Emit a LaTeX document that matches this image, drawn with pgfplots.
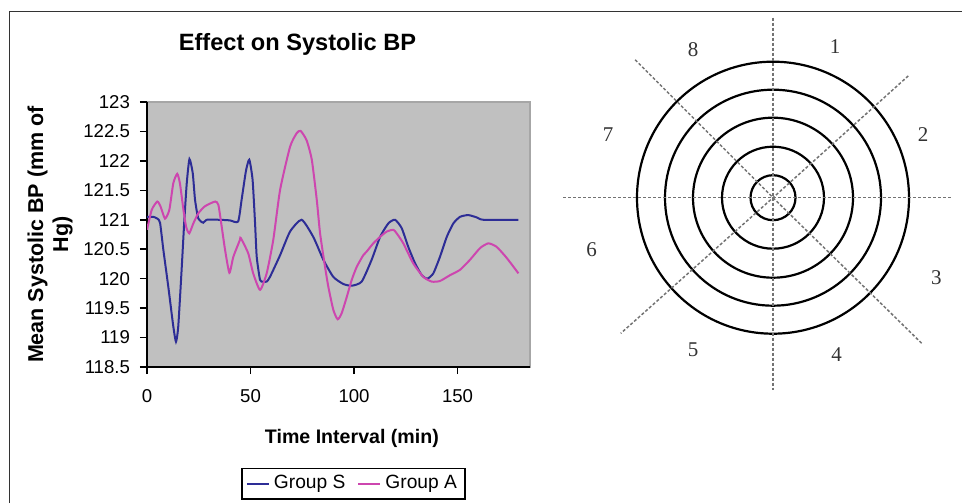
\documentclass[border=0pt]{standalone}
\usepackage{fontspec}
\setmainfont{Liberation Sans}
\newfontfamily\serifnum{Liberation Serif}
\usepackage{pgfplots}
\pgfplotsset{compat=1.18}
\usepgfplotslibrary{polar}
\definecolor{grpS}{RGB}{45,45,150}
\definecolor{grpA}{RGB}{205,70,175}
\definecolor{plotbg}{RGB}{192,192,192}
\begin{document}
\begin{tikzpicture}
\useasboundingbox (0,0) rectangle (481pt,251.5pt);
\draw[line width=0.75pt, black!80] (4.75pt,0) -- (4.75pt,245.75pt) -- (481pt,245.75pt);
\begin{axis}[
  at={(73.5pt,68pt)}, anchor=south west,
  scale only axis, width=191.5pt, height=132.5pt,
  xmin=0, xmax=185, ymin=118.5, ymax=123,
  axis x line*=bottom, axis y line*=left,
  axis line style={black, line width=0.8pt, -},
  axis background/.style={fill=plotbg, draw=gray!70, line width=0.6pt},
  xtick={0,50,100,150},
  ytick={118.5,119,119.5,120,120.5,121,121.5,122,122.5,123},
  tick align=outside, major tick length=3.5pt,
  tick style={black, line width=0.8pt},
  /pgf/number format/assume math mode=true,
  ticklabel style={font=\fontsize{9.3}{10}\selectfont},
  xticklabel style={anchor=base, yshift=-14pt},
  yticklabel style={anchor=east, xshift=-1.5pt},
  title={Effect on Systolic BP},
  every axis title shift=0pt,
  title style={at={(axis description cs:0.393,1.196)}, anchor=base, yshift=0pt, font=\bfseries\fontsize{11.8}{13}\selectfont},
  xlabel={Time Interval (min)},
  xlabel style={at={(axis description cs:0.535,-0.288)}, anchor=base, font=\bfseries\fontsize{9.8}{11}\selectfont},
  ylabel={Mean Systolic BP (mm of\\Hg)},
  ylabel style={at={(axis description cs:-0.253,0.5)}, anchor=center, rotate=0, align=center, font=\bfseries\fontsize{10.75}{12.5}\selectfont},
  legend style={at={(axis description cs:0.539,-0.440)}, anchor=center, legend columns=2, draw=black, line width=0.7pt, font=\fontsize{9.6}{11}\selectfont, inner xsep=2pt, inner ysep=1.5pt, /tikz/every even column/.append style={column sep=4pt}},
  legend image code/.code={\draw[#1, line width=1pt] (0pt,0pt) -- (11pt,0pt);},
]
\addplot[grpS, line width=1pt, smooth, tension=0.35] coordinates {
(0,121.05) (3,121.05) (5,121.02) (6.3,120.95) (7.9,120.49) (10.3,119.86) (12.7,119.19) (14,118.93)
(15.1,119.19) (16.8,120.2) (18,120.97) (19.2,121.62) (20.5,122.03) (22.1,121.79) (23.2,121.34)
(24.8,121.02) (27.2,120.95) (28.8,121.0) (35,121.0) (40,120.99) (44,120.97) (45.7,121.34)
(47.8,121.83) (49.4,122.02) (51,121.68) (52.2,120.94) (53,120.37) (54.6,119.98) (56,119.95)
(57.8,119.95) (59.4,120.03) (64.3,120.4) (69.1,120.8) (74.7,121.0) (80.3,120.71) (85.2,120.32)
(90,120.03) (94.8,119.91) (98.9,119.88) (103.7,119.95) (108.5,120.32) (112.6,120.71) (116.6,120.94)
(119.8,121.0) (123,120.86) (126.2,120.54) (129.5,120.26) (132.7,120.06) (135.4,120.0) (138.3,120.09)
(141.5,120.37) (144.8,120.71) (148,120.94) (151.2,121.05) (155.2,121.08) (159.3,121.04) (162.5,121.0)
(179.4,121.0)
};
\addlegendentry{Group S}
\addplot[grpA, line width=1pt, smooth, tension=0.35] coordinates {
(0,120.83) (2.3,121.17) (5,121.31) (6.6,121.22) (8.7,121.02) (10.8,121.17) (12.7,121.62) (14.6,121.78)
(15.9,121.62) (17.6,121.17) (18.9,120.88) (20.4,120.77) (22.4,120.94) (24.8,121.11) (28,121.23)
(32.9,121.31) (34.5,121.25) (36.1,120.88) (37.7,120.49) (39.8,120.1) (41.7,120.37) (44.9,120.66)
(45.3,120.69) (48.9,120.43) (51.3,120.09) (54.6,119.81) (57.8,120.09) (61,120.66) (64.3,121.51)
(69.1,122.24) (72.3,122.47) (74.2,122.51) (77.1,122.35) (79.6,122.02) (82,121.34) (83.6,120.77)
(86,120.2) (87.6,119.86) (90,119.47) (92.1,119.31) (94,119.41) (96.5,119.69) (98.9,119.98)
(101.3,120.2) (104.5,120.4) (106.1,120.46) (109.3,120.6) (112.6,120.71) (115.8,120.8) (119,120.83)
(120.6,120.77) (123.8,120.6) (128.6,120.26) (133.5,120.03) (137.5,119.95) (141.5,119.96) (146.4,120.06)
(151.2,120.15) (156,120.32) (160.9,120.52) (164.9,120.6) (168.9,120.54) (173.8,120.35) (179.4,120.09)
};
\addlegendentry{Group A}
\end{axis}
\begin{polaraxis}[
  at={(386.5pt,152.65pt)}, anchor=origin,
  scale only axis, width=220pt, height=220pt,
  ymin=0, ymax=220, clip=false,
  xtick=\empty,
  ytick={22.5,51,80,108,136}, yticklabels={},
  ymajorgrids, y grid style={black, line width=1.1pt, solid},
  axis line style={draw=none}, tick style={draw=none},
]
\addplot[black!55, line width=0.75pt, dash pattern=on 1.5pt off 1pt] coordinates {(180,210) (0,0) (0,179)};
\addplot[black!55, line width=0.75pt, dash pattern=on 1.5pt off 1pt] coordinates {(90,180) (0,0) (270,192)};
\addplot[black!55, line width=0.75pt, dash pattern=on 1.5pt off 1pt] coordinates {(135,195) (0,0) (315.6,208)};
\addplot[black!55, line width=0.75pt, dash pattern=on 1.5pt off 1pt] coordinates {(42,182) (0,0) (221.7,204)};
\node[font=\serifnum\fontsize{10.5}{11}\selectfont, text=black!80] at (axis cs:67.6,163) {1};
\node[font=\serifnum\fontsize{10.5}{11}\selectfont, text=black!80] at (axis cs:22.7,162.6) {2};
\node[font=\serifnum\fontsize{10.5}{11}\selectfont, text=black!80] at (axis cs:-26.1,182) {3};
\node[font=\serifnum\fontsize{10.5}{11}\selectfont, text=black!80] at (axis cs:-68,169.7) {4};
\node[font=\serifnum\fontsize{10.5}{11}\selectfont, text=black!80] at (axis cs:242.3,172) {5};
\node[font=\serifnum\fontsize{10.5}{11}\selectfont, text=black!80] at (axis cs:196.1,188.7) {6};
\node[font=\serifnum\fontsize{10.5}{11}\selectfont, text=black!80] at (axis cs:159.2,176.5) {7};
\node[font=\serifnum\fontsize{10.5}{11}\selectfont, text=black!80] at (axis cs:118.4,168) {8};
\end{polaraxis}
\end{tikzpicture}
\end{document}
